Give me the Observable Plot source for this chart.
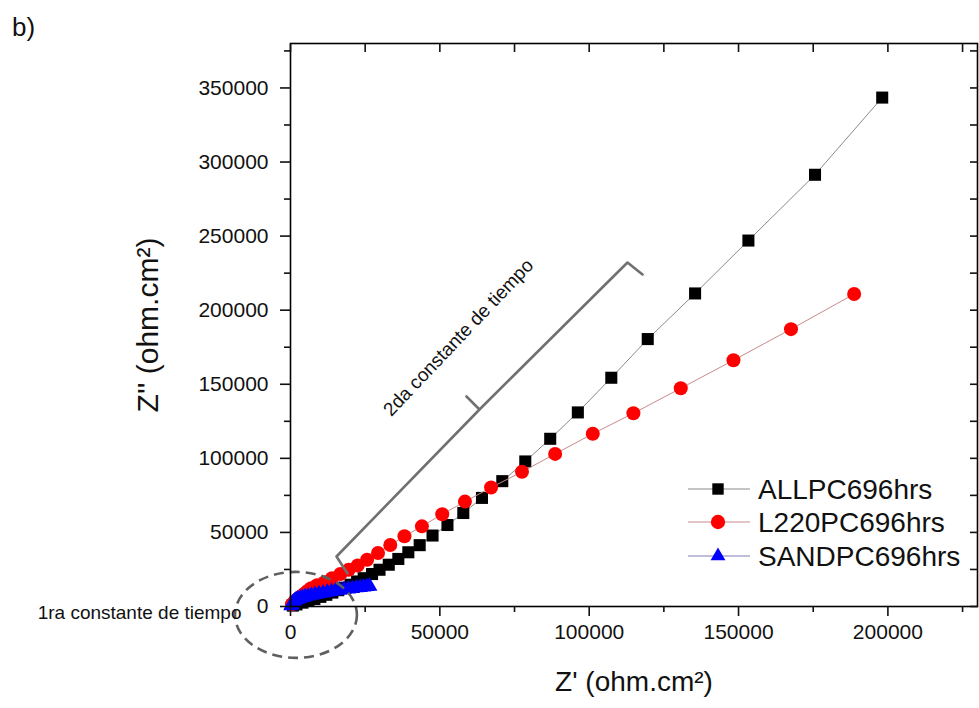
<!DOCTYPE html>
<html>
<head>
<meta charset="utf-8">
<script src="https://cdn.jsdelivr.net/npm/d3@7"></script>
<script src="https://cdn.jsdelivr.net/npm/@observablehq/plot@0.6"></script>
<style>
  html, body { margin: 0; padding: 0; background: #fff; }
  #wrap { position: relative; width: 979px; height: 708px; font-family: "Liberation Sans", Arial, sans-serif; }
  #panel { position: absolute; left: 12px; top: 12px; font-size: 26px; color: #111; }
  #legend { position: absolute; left: 0; top: 0; pointer-events: none; }
</style>
</head>
<body>
<div id="wrap">
  <div id="chart"></div>
  <div id="panel">b)</div>
</div>
<script>
// ---------------- data ----------------
const seriesNames = ["ALLPC696hrs", "L220PC696hrs", "SANDPC696hrs"];

const allX = [800, 2000, 4000, 6000, 8000, 10000, 12000, 14000, 16000, 18000, 20100, 22300, 24500, 27300, 29800, 32900, 36100, 39450, 43250, 47550, 52550, 57850, 64100, 70900, 78600, 86950, 96200, 107400, 119600, 135450, 153300, 175600, 198100];
const allY = [600, 1400, 2600, 3800, 5100, 6500, 7900, 9400, 11000, 12700, 14700, 16900, 19100, 21900, 24800, 28200, 32100, 36600, 41400, 47900, 55000, 63100, 73300, 84600, 97900, 113200, 131000, 154400, 180500, 211300, 247000, 291400, 343500];

const l220X = [500, 1300, 2300, 3400, 4600, 5700, 6900, 8900, 11400, 13900, 16700, 19500, 22500, 25650, 29300, 33400, 38150, 44000, 50800, 58400, 67150, 77500, 88600, 101200, 114800, 130660, 148300, 167560, 188700];
const l220Y = [1500, 3200, 5000, 6800, 8600, 10500, 12400, 14300, 16400, 19100, 21900, 24800, 27700, 31600, 36100, 41500, 47400, 54100, 62300, 70800, 80300, 90900, 103000, 116600, 130400, 147300, 166200, 187200, 210900];

const sandX = [200, 400, 700, 1000, 1400, 1900, 2500, 3200, 4000, 4900, 5900, 7000, 8200, 9500, 10900, 12300, 13700, 15100, 16500, 17900, 19300, 20700, 22000, 23300, 24500, 25600, 26500];
const sandY = [500, 1300, 2200, 3000, 3800, 4500, 5100, 5600, 6100, 6600, 7100, 7600, 8100, 8600, 9100, 9600, 10100, 10600, 11000, 11400, 11800, 12200, 12600, 12900, 13200, 13500, 13700];

const xMajorTicks = [0, 50000, 100000, 150000, 200000];
const xMinorTicks = [25000, 75000, 125000, 175000, 225000];
const yMajorTicks = [0, 50000, 100000, 150000, 200000, 250000, 300000, 350000];
const yMinorTicks = [25000, 75000, 125000, 175000, 225000, 275000, 325000, 375000];

const xTitle = "Z' (ohm.cm²)";
const yTitle = "Z'' (ohm.cm²)";
const note1 = "1ra constante de tiempo";
const note2 = "2da constante de tiempo";

// annotation anchors (data units)
const note1Pos = [{x: -16400, y: -4300}];
const note2Pos = [{x: 56200, y: 181500}];
const bracketX = [19080, 15400, 63270, 58920, 63270, 112820, 117850];
const bracketY = [22270, 33750, 132970, 141740, 132970, 232180, 224090];
const ellipseSpec = {cx: 2000, cy: -6000, rx: 20400, ry: 29000};

// ---------------- build ----------------
const toRows = (xs, ys, s) => xs.map((x, i) => ({x, y: ys[i], s}));
const allRows = toRows(allX, allY, seriesNames[0]);
const l220Rows = toRows(l220X, l220Y, seriesNames[1]);
const sandRows = toRows(sandX, sandY, seriesNames[2]);
const bracketRows = bracketX.map((x, i) => ({x, y: bracketY[i]}));

const fontFam = "'Liberation Sans', Arial, sans-serif";

function ellipseMark(index, scales) {
  const {x, y} = scales;
  const cx = x(ellipseSpec.cx), cy = y(ellipseSpec.cy);
  const rx = x(ellipseSpec.cx + ellipseSpec.rx) - cx;
  const ry = cy - y(ellipseSpec.cy + ellipseSpec.ry);
  const e = d3.create("svg:ellipse")
    .attr("cx", cx).attr("cy", cy).attr("rx", rx).attr("ry", ry)
    .attr("fill", "none").attr("stroke", "#5f5f5f")
    .attr("stroke-width", 2.6).attr("stroke-dasharray", "10,6");
  return e.node();
}

const chart = Plot.plot({
  width: 979,
  height: 708,
  marginLeft: 290,
  marginRight: 2,
  marginTop: 43,
  marginBottom: 102,
  style: {fontFamily: fontFam, fontSize: "21px", color: "#111", background: "transparent", overflow: "visible"},
  x: {domain: [0, 230000], label: null},
  y: {domain: [0, 380000], label: null},
  marks: [
    // data
    Plot.line(allRows, {x: "x", y: "y", stroke: "#8a8a8a", strokeWidth: 1}),
    Plot.dot(allRows, {x: "x", y: "y", symbol: "square", r: 6.8, fill: "#000", stroke: "none"}),
    Plot.line(l220Rows, {x: "x", y: "y", stroke: "#c98a8a", strokeWidth: 1}),
    Plot.dot(l220Rows, {x: "x", y: "y", symbol: "circle", r: 7, fill: "#ff0000", stroke: "none"}),
    Plot.line(sandRows, {x: "x", y: "y", stroke: "#7f7fb5", strokeWidth: 1}),
    Plot.dot(sandRows, {x: "x", y: "y", symbol: "triangle", r: 5.8, fill: "#0000ff", stroke: "none"}),
    // annotations
    ellipseMark,
    Plot.line(bracketRows, {x: "x", y: "y", stroke: "#707070", strokeWidth: 2.6, strokeLinejoin: "round", curve: "linear"}),
    Plot.text(note1Pos, {x: "x", y: "y", text: () => note1, textAnchor: "end", fontSize: 19, fill: "#111"}),
    Plot.text(note2Pos, {x: "x", y: "y", text: () => note2, rotate: -46.5, fontSize: 19, fill: "#111"}),
    // frame & axes
    Plot.frame({stroke: "#000", strokeWidth: 1.6}),
    Plot.axisX(xMajorTicks, {anchor: "bottom", tickSize: 10, tickPadding: 8, strokeWidth: 1.6, fontSize: 21, label: null, tickFormat: d => String(d)}),
    Plot.axisX(xMinorTicks, {anchor: "bottom", tickSize: 6, strokeWidth: 1.6, label: null, tickFormat: () => ""}),
    Plot.axisY(yMajorTicks, {anchor: "left", tickSize: 10, tickPadding: 12, strokeWidth: 1.6, fontSize: 21, label: null, tickFormat: d => String(d)}),
    Plot.axisY(yMinorTicks, {anchor: "left", tickSize: 6, strokeWidth: 1.6, label: null, tickFormat: () => ""}),
    Plot.axisX(xMajorTicks.concat(xMinorTicks), {anchor: "top", tickSize: -8, strokeWidth: 1.6, label: null, tickFormat: () => ""}),
    Plot.axisY(yMajorTicks.concat(yMinorTicks), {anchor: "right", tickSize: -8, strokeWidth: 1.6, label: null, tickFormat: () => ""}),
    // axis titles
    Plot.text([xTitle], {frameAnchor: "bottom", dy: 84, textAnchor: "middle", text: d => d, fontSize: 28, fill: "#111"}),
    Plot.text([yTitle], {frameAnchor: "left", dx: -142, rotate: -90, textAnchor: "middle", text: d => d, fontSize: 30, fill: "#111"})
  ]
});
document.getElementById("chart").appendChild(chart);

// ---------------- legend ----------------
const legendColors = [
  {line: "#8a8a8a", fill: "#000", sym: d3.symbolSquare, size: 130},
  {line: "#c98a8a", fill: "#ff0000", sym: d3.symbolCircle, size: 160},
  {line: "#7f7fb5", fill: "#0000ff", sym: d3.symbolTriangle, size: 95}
];
const leg = d3.select("#wrap").append("svg")
  .attr("id", "legend").attr("width", 979).attr("height", 708);
const rowY = [489, 522, 556];
seriesNames.forEach((name, i) => {
  const g = leg.append("g").attr("transform", `translate(0,${rowY[i]})`);
  g.append("line").attr("x1", 688).attr("x2", 750).attr("y1", 0).attr("y2", 0)
    .attr("stroke", legendColors[i].line).attr("stroke-width", 1);
  g.append("path").attr("transform", "translate(718,0)")
    .attr("d", d3.symbol(legendColors[i].sym, legendColors[i].size)())
    .attr("fill", legendColors[i].fill);
  g.append("text").attr("x", 758).attr("y", 0).attr("dy", "0.36em")
    .attr("font-family", fontFam).attr("font-size", 28).attr("fill", "#111")
    .text(name);
});
</script>
</body>
</html>
